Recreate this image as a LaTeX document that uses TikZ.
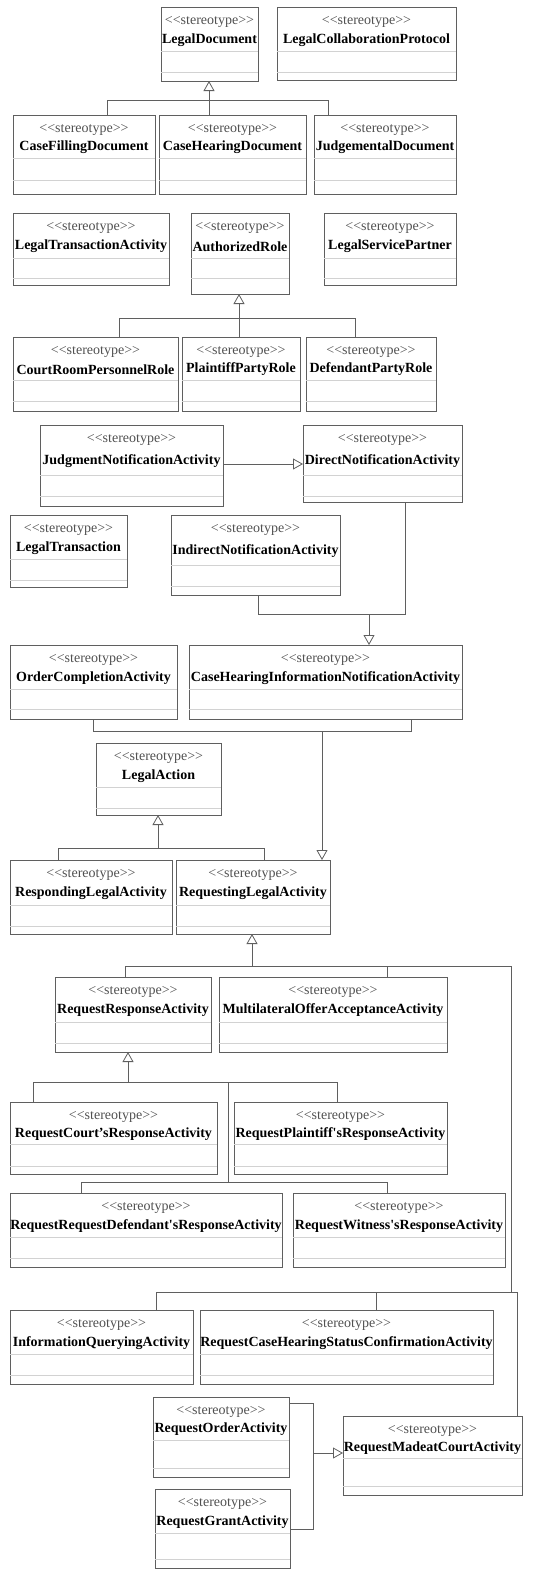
\documentclass[tikz,border=0pt]{standalone}
\usepackage{fontspec}
\setmainfont{Liberation Serif}
\newfontfamily\namefont{Liberation Serif}
\usepackage{tikz}
\usetikzlibrary{arrows.meta}

\definecolor{boxgray}{RGB}{95,95,95}
\definecolor{splitgray}{RGB}{210,210,210}
\definecolor{stereogray}{RGB}{80,80,80}

% class box: name, x, y, width, height, first split, second split, title
\newcommand{\umlclass}[8]{%
  \node[clsbox, minimum width=#4pt, minimum height=#5pt] (#1) at (#2,#3) {};
  \draw[splitline] ([yshift=-#6pt]#1.north west) -- ([yshift=-#6pt]#1.north east);
  \draw[splitline] ([yshift=-#7pt]#1.north west) -- ([yshift=-#7pt]#1.north east);
  \node[stereo] (#1-st) at ([yshift=-15pt]#1.north) {<{}<stereotype>{}>};
  \node[cname] (#1-nm) at ([yshift={-(#6/2+11)*1pt}]#1.north) {#8};
}

\begin{document}
\begin{tikzpicture}[x=1pt,y=-1pt,
  every node/.style={font=\fontsize{14}{16}\selectfont},
  clsbox/.style={draw=boxgray, line width=0.8pt, anchor=north west, inner sep=0pt, outer sep=0pt},
  splitline/.style={draw=splitgray, line width=0.8pt},
  stereo/.style={text=stereogray, inner sep=0pt},
  cname/.style={text=black, font=\fontsize{14}{16}\selectfont\namefont\bfseries, inner sep=0pt},
  conn/.style={draw=boxgray, line width=0.8pt},
  genarrow/.style={conn, -{Triangle[open, length=10pt, width=11pt]}}]
\useasboundingbox (0,0) rectangle (548,1569);

% documents and roles
\umlclass{ldoc}{161}{7}{97}{74}{44}{65}{LegalDocument}
\umlclass{lcp}{277}{7}{179}{73}{44}{65}{LegalCollaborationProtocol}
\umlclass{cfd}{13}{115}{142}{79}{43}{65}{CaseFillingDocument}
\umlclass{chd}{159}{115}{147}{79}{43}{65}{CaseHearingDocument}
\umlclass{jud}{314}{115}{142}{79}{43}{65}{JudgementalDocument}
\umlclass{lta}{13}{213}{156}{72}{45}{65}{LegalTransactionActivity}
\umlclass{arole}{191}{213}{98}{81}{45}{65}{AuthorizedRole}
\umlclass{lsp}{324}{213}{132}{72}{45}{65}{LegalServicePartner}
\umlclass{crpr}{13}{337}{165}{74}{43}{64}{CourtRoomPersonnelRole}
\umlclass{ppr}{182}{337}{118}{74}{43}{64}{PlaintiffPartyRole}
\umlclass{dpr}{306}{337}{130}{74}{43}{64}{DefendantPartyRole}

% notifications
\umlclass{jna}{40}{425}{183}{81}{50}{71}{JudgmentNotificationActivity}
\umlclass{dna}{303}{425}{159}{77}{50}{71}{DirectNotificationActivity}
\umlclass{lt}{10}{515}{117}{72}{44}{65}{LegalTransaction}
\umlclass{ina}{171}{515}{169}{80}{50}{71}{IndirectNotificationActivity}
\umlclass{oca}{10}{645}{167}{74}{44}{64}{OrderCompletionActivity}
\umlclass{china}{189}{645}{273}{74}{44}{64}{CaseHearingInformationNotificationActivity}
\umlclass{la}{96}{743}{125}{72}{44}{65}{LegalAction}
\umlclass{resp}{10}{860}{162}{74}{45}{66}{RespondingLegalActivity}
\umlclass{rla}{176}{860}{154}{74}{45}{66}{RequestingLegalActivity}

% requests
\umlclass{rra}{55}{977}{156}{75}{45}{66}{RequestResponseActivity}
\umlclass{moaa}{219}{977}{228}{75}{45}{66}{MultilateralOfferAcceptanceActivity}
\umlclass{rcra}{10}{1102}{207}{72}{42}{64}{RequestCourt’sResponseActivity}
\umlclass{rpra}{234}{1102}{213}{72}{42}{64}{RequestPlaintiff'sResponseActivity}
\umlclass{rrdra}{10}{1193}{272}{74}{44}{65}{RequestRequestDefendant'sResponseActivity}
\umlclass{rwra}{293}{1193}{212}{74}{44}{65}{RequestWitness'sResponseActivity}
\umlclass{iqa}{10}{1310}{183}{74}{44}{65}{InformationQueryingActivity}
\umlclass{rchsca}{200}{1310}{293}{74}{44}{65}{RequestCaseHearingStatusConfirmationActivity}
\umlclass{roa}{153}{1397}{136}{80}{43}{71}{RequestOrderActivity}
\umlclass{rga}{155}{1489}{135}{79}{44}{70}{RequestGrantActivity}
\umlclass{rmca}{343}{1416}{179}{79}{42}{70}{RequestMadeatCourtActivity}

% generalizations
\coordinate (g1) at (209,100);
\coordinate (g1a) at (107,100);
\coordinate (g1b) at (328,100);
\draw[conn] (g1a |- cfd.north) -- (g1a) -- (g1b) -- (g1b |- jud.north);
\draw[conn] (g1 |- chd.north) -- (g1);
\draw[genarrow] (g1) -- (g1 |- ldoc.south);

\coordinate (g2) at (239,318);
\coordinate (g2a) at (119,318);
\coordinate (g2b) at (355,318);
\draw[conn] (g2a |- crpr.north) -- (g2a) -- (g2b) -- (g2b |- dpr.north);
\draw[conn] (g2 |- ppr.north) -- (g2);
\draw[genarrow] (g2) -- (g2 |- arole.south);

\draw[genarrow] ([yshift=-39pt]jna.north east) -- ([yshift=-39pt]dna.north west);

\coordinate (g3) at (369,614);
\coordinate (g3a) at (258,614);
\coordinate (g3b) at (405,614);
\draw[conn] (g3a |- ina.south) -- (g3a) -- (g3b) -- (g3b |- dna.south);
\draw[genarrow] (g3) -- (g3 |- china.north);

\coordinate (g4) at (322,731);
\coordinate (g4a) at (93,731);
\coordinate (g4b) at (411,731);
\draw[conn] (g4a |- oca.south) -- (g4a) -- (g4b) -- (g4b |- china.south);
\draw[genarrow] (g4) -- (g4 |- rla.north);

\coordinate (g5) at (158,848);
\coordinate (g5a) at (58,848);
\coordinate (g5b) at (264,848);
\draw[conn] (g5a |- resp.north) -- (g5a) -- (g5b) -- (g5b |- rla.north);
\draw[genarrow] (g5) -- (g5 |- la.south);

\coordinate (g6) at (252,966);
\coordinate (g6a) at (125,966);
\coordinate (g6b) at (387,966);
\coordinate (g6c) at (511,966);
\coordinate (g6d) at (511,1292);
\draw[conn] (g6a |- rra.north) -- (g6a) -- (g6c) -- (g6d);
\draw[conn] (g6b) -- (g6b |- moaa.north);
\draw[genarrow] (g6) -- (g6 |- rla.south);

\coordinate (g7) at (128,1082);
\coordinate (g7a) at (33,1082);
\coordinate (g7b) at (337,1082);
\coordinate (g7c) at (228,1082);
\coordinate (g7d) at (228,1182);
\coordinate (g7e) at (81,1182);
\coordinate (g7f) at (387,1182);
\draw[conn] (g7a |- rcra.north) -- (g7a) -- (g7b) -- (g7b |- rpra.north);
\draw[conn] (g7c) -- (g7d);
\draw[conn] (g7e |- rrdra.north) -- (g7e) -- (g7f) -- (g7f |- rwra.north);
\draw[genarrow] (g7) -- (g7 |- rra.south);

\coordinate (g8a) at (156,1292);
\coordinate (g8b) at (376,1292);
\coordinate (g8c) at (517,1292);
\draw[conn] (g8a |- iqa.north) -- (g8a) -- (g8c) -- (g8c |- rmca.north);
\draw[conn] (g8b) -- (g8b |- rchsca.north);

\coordinate (g9) at (313,1453);
\coordinate (g9a) at (313,1403);
\coordinate (g9b) at (313,1529);
\draw[conn] (roa.east |- g9a) -- (g9a) -- (g9b) -- (rga.east |- g9b);
\draw[genarrow] (g9) -- (rmca.west |- g9);
\end{tikzpicture}
\end{document}
